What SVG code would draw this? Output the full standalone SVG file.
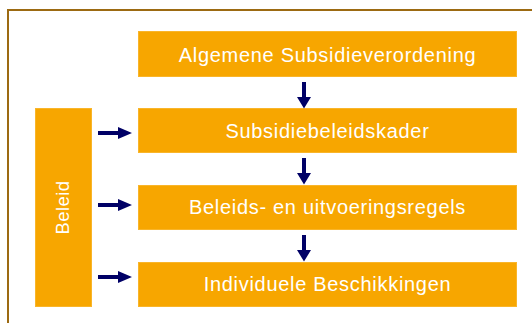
<svg xmlns="http://www.w3.org/2000/svg" width="532" height="323" viewBox="0 0 532 323">
  <defs>
    <style>
      .box { fill: #F7A600; stroke: #F9B52A; stroke-width: 1; }
      .lbl { fill: #FFFFFF; font-family: "Liberation Sans", Arial, sans-serif; font-size: 20px; letter-spacing: 0.7px; text-anchor: middle; }
      .arr { fill: #000066; }
    </style>
  </defs>
  <rect x="0" y="0" width="532" height="323" fill="#FFFFFF"/>
  <rect x="8" y="10" width="540" height="330" fill="none" stroke="#9C6A12" stroke-width="2"/>

  <g id="node-algemene">
    <rect class="box" x="138.5" y="31.5" width="378" height="45"/>
    <text class="lbl" x="327.5" y="61.5">Algemene Subsidieverordening</text>
  </g>
  <g id="node-kader">
    <rect class="box" x="138.5" y="108.5" width="378" height="44"/>
    <text class="lbl" x="327.5" y="138">Subsidiebeleidskader</text>
  </g>
  <g id="node-regels">
    <rect class="box" x="138.5" y="185.5" width="378" height="44"/>
    <text class="lbl" x="327.5" y="213.5">Beleids- en uitvoeringsregels</text>
  </g>
  <g id="node-beschikkingen">
    <rect class="box" x="138.5" y="262.5" width="378" height="44"/>
    <text class="lbl" x="327.5" y="291">Individuele Beschikkingen</text>
  </g>
  <g id="node-beleid">
    <rect class="box" x="35.5" y="108.5" width="56" height="198"/>
    <text class="lbl" style="font-size:18.5px;letter-spacing:0.4px" transform="translate(69,207.5) rotate(-90)" x="0" y="0">Beleid</text>
  </g>

  <g id="connectors">
    <path class="arr" d="M302,82 H306 V97 H311 L304,108.5 L297,97 H302 Z"/>
    <path class="arr" d="M302,158 H306 V173 H311 L304,184.5 L297,173 H302 Z"/>
    <path class="arr" d="M302,235 H306 V250 H311 L304,261.5 L297,250 H302 Z"/>
    <path class="arr" d="M98,131 H118 V127 L132,133 L118,139 V135 H98 Z"/>
    <path class="arr" d="M98,203 H118 V199 L132,205 L118,211 V207 H98 Z"/>
    <path class="arr" d="M98,275 H118 V271 L132,277 L118,283 V279 H98 Z"/>
  </g>
</svg>
